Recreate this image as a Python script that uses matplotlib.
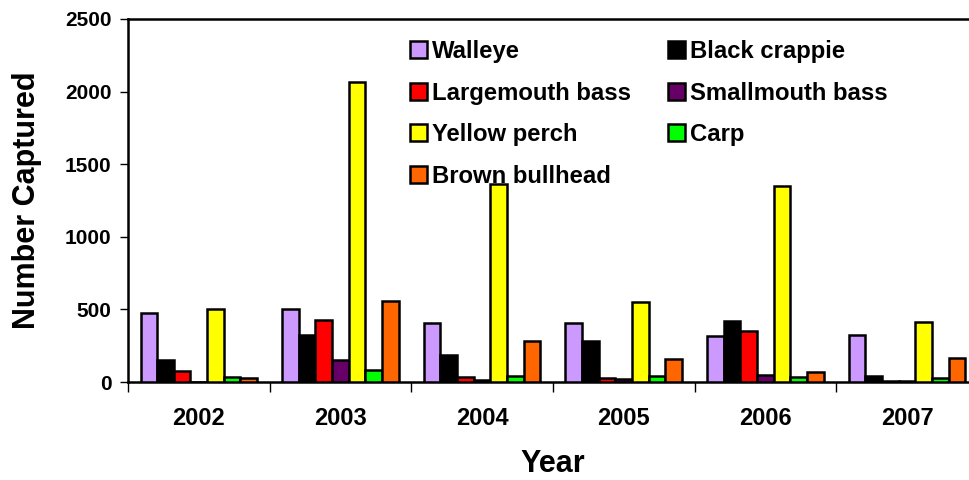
import matplotlib
matplotlib.use("Agg")
import matplotlib.pyplot as plt
import numpy as np

years = ["2002", "2003", "2004", "2005", "2006", "2007"]
walleye = [477, 505, 409, 409, 317, 324]
black_crappie = [152, 324, 186, 282, 420, 41]
largemouth_bass = [76, 425, 32, 30, 351, 10]
smallmouth_bass = [0, 149, 15, 23, 46, 5]
yellow_perch = [501, 2068, 1362, 553, 1348, 411]
carp = [37, 83, 42, 41, 37, 30]
brown_bullhead = [30, 560, 282, 161, 71, 168]

series = [
    ("Walleye", walleye, "#CC99FF"),
    ("Black crappie", black_crappie, "#000000"),
    ("Largemouth bass", largemouth_bass, "#FF0000"),
    ("Smallmouth bass", smallmouth_bass, "#660066"),
    ("Yellow perch", yellow_perch, "#FFFF00"),
    ("Carp", carp, "#00FF00"),
    ("Brown bullhead", brown_bullhead, "#FF6600"),
]

plt.rcParams['font.family'] = ['Liberation Sans', 'DejaVu Sans']
plt.rcParams['font.weight'] = 'bold'

fig = plt.figure(figsize=(9.69, 4.8), dpi=100)
ax = fig.add_axes([128/969, 1-382/480, 850/969, 363/480])

x = np.arange(len(years))
w = 1/8.5
handles = {}
for i, (name, vals, col) in enumerate(series):
    b = ax.bar(x + (i-3)*w, vals, width=w, color=col, edgecolor='black',
               linewidth=1.8, label=name, zorder=3)
    handles[name] = b

ax.set_xlim(-0.5, 5.5)
ax.set_ylim(0, 2500)
ax.set_yticks([0, 500, 1000, 1500, 2000, 2500])
ax.tick_params(axis='y', labelsize=15, length=6, width=1, direction='out', pad=6)
ax.set_xticks(np.arange(-0.5, 6.0, 1.0))
ax.set_xticklabels([])
ax.set_xticks(x, minor=True)
ax.set_xticklabels(years, minor=True, fontsize=17, fontweight='bold')
ax.tick_params(axis='x', which='major', length=7, width=1, direction='out')
ax.tick_params(axis='x', which='minor', length=0, pad=18)
for lab in ax.get_yticklabels():
    lab.set_fontweight('bold')
for s in ax.spines.values():
    s.set_linewidth(1.8)

ax.set_ylabel("Number Captured", fontsize=22, fontweight='bold', labelpad=16)
ax.set_xlabel("Year", fontsize=22, fontweight='bold', labelpad=14)

order = ["Walleye", "Largemouth bass", "Yellow perch", "Brown bullhead",
         "Black crappie", "Smallmouth bass", "Carp"]
leg = fig.legend([handles[n] for n in order], order, loc='upper left',
                 bbox_to_anchor=(410/969, 1-40/480),
                 ncol=2, frameon=False, fontsize=17.2, handlelength=0.72,
                 handleheight=0.72, handletextpad=0.2, columnspacing=1.55,
                 labelspacing=0.78, borderpad=0, borderaxespad=0)
for t in leg.get_texts():
    t.set_fontweight('bold')

fig.savefig("out.png", dpi=100)
